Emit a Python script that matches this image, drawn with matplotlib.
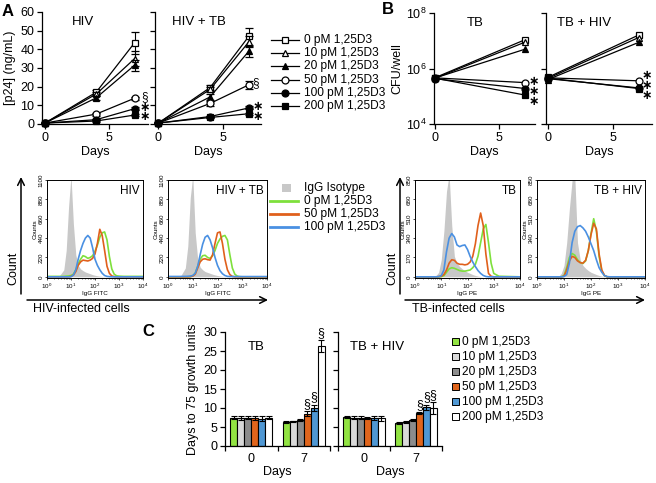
import matplotlib
matplotlib.use('Agg')
import matplotlib.pyplot as plt
import numpy as np
from matplotlib.patches import Rectangle

plt.rcParams['font.family'] = ['Liberation Sans', 'DejaVu Sans']
plt.rcParams['mathtext.fontset'] = 'custom'
plt.rcParams['mathtext.rm'] = 'Liberation Sans'

# ---------------- data ----------------
dose_labels = ['0 pM 1,25D3', '10 pM 1,25D3', '20 pM 1,25D3',
               '50 pM 1,25D3', '100 pM 1,25D3', '200 pM 1,25D3']
line_markers = ['s', '^', '^', 'o', 'o', 's']
marker_fills = ['white', 'white', 'black', 'white', 'black', 'black']

# Panel A: p24 (ng/mL)
days_a = [0, 4, 7]
hiv_p24 = [[0.5, 17, 43.5], [0.5, 16, 35], [0.5, 14, 31.5],
           [0.5, 5.3, 13.8], [0.5, 2.3, 8.2], [0.5, 1.6, 4.8]]
hiv_p24_err = [[0, 1.2, 6], [0, 1, 4], [0, 1, 3], [0, 0.8, 0.8], [0, 0.3, 0.8], [0, 0.3, 0.5]]
hivtb_p24 = [[0.5, 19.5, 47], [0.5, 18.5, 44], [0.5, 14.5, 39],
             [0.5, 11, 21], [0.5, 4, 8.6], [0.5, 3.5, 5.5]]
hivtb_p24_err = [[0, 1.5, 4.5], [0, 1.5, 3], [0, 1.5, 3], [0, 1.5, 2], [0, 0.5, 0.8], [0, 0.5, 0.6]]
# significance marks (day, value)
hiv_sig = [('§', 7.8, 14.6), ('∗', 7.8, 9.4), ('∗', 7.8, 4.6)]
hivtb_sig = [('§', 7.5, 21.9), ('∗', 7.7, 10.0), ('∗', 7.7, 4.8)]

# Panel B: CFU/well
days_b = [0, 7]
tb_cfu = [[4.6e5, 1.1e7], [4.4e5, 9e6], [4.5e5, 5e6],
          [4.6e5, 3.1e5], [4.3e5, 1.9e5], [4.5e5, 1.1e5]]
tbhiv_cfu = [[4.8e5, 1.6e7], [4.4e5, 1.3e7], [4.0e5, 8.7e6],
             [4.6e5, 3.6e5], [4.3e5, 2.0e5], [4.5e5, 1.9e5]]
tb_sig = [('∗', 7.65, 3.9e5), ('∗', 7.65, 1.7e5), ('∗', 7.65, 7.3e4)]
tbhiv_sig = [('∗', 7.65, 6.2e5), ('∗', 7.65, 2.8e5), ('∗', 7.65, 1.22e5)]

# Flow histograms (x in decades, y counts)
hist_decades = [0.0, 0.5, 0.7, 0.8, 0.9, 1.0, 1.1, 1.2, 1.3, 1.4, 1.5, 1.6, 1.7, 1.8,
                1.9, 2.0, 2.1, 2.2, 2.3, 2.4, 2.5, 2.6, 2.7, 2.8, 2.9, 3.0, 3.2, 4.0]
hiv_gray = [0, 5, 80, 300, 800, 1150, 600, 250, 130, 90, 70, 55, 45, 35, 25, 18, 12, 8, 5, 3, 2, 0, 0, 0, 0, 0, 0, 0]
hiv_blue = [0, 0, 0, 0, 0, 2, 20, 80, 200, 300, 380, 440, 470, 440, 330, 200, 130, 80, 40, 15, 5, 2, 0, 0, 0, 0, 0, 0]
hiv_green = [5, 5, 5, 8, 10, 15, 30, 80, 150, 200, 240, 230, 210, 220, 240, 290, 360, 450, 500, 510, 420, 230, 90, 30, 12, 8, 5, 5]
hiv_orange = [0, 0, 0, 0, 0, 5, 20, 60, 130, 170, 190, 185, 180, 190, 210, 260, 380, 540, 470, 300, 120, 40, 10, 3, 0, 0, 0, 0]
hivtb_gray = [0, 5, 100, 350, 900, 1150, 500, 200, 110, 80, 60, 50, 40, 30, 22, 15, 10, 6, 4, 2, 0, 0, 0, 0, 0, 0, 0, 0]
hivtb_blue = [4, 4, 5, 6, 8, 15, 40, 120, 250, 370, 450, 470, 420, 330, 220, 130, 70, 35, 15, 5, 3, 3, 3, 3, 3, 3, 3, 3]
hivtb_green = [0, 0, 0, 0, 2, 10, 40, 120, 200, 240, 245, 220, 210, 240, 300, 380, 430, 460, 470, 420, 250, 100, 30, 8, 2, 0, 0, 0]
hivtb_orange = [0, 0, 0, 0, 2, 8, 30, 100, 170, 200, 205, 195, 190, 250, 380, 500, 510, 380, 200, 80, 25, 5, 0, 0, 0, 0, 0, 0]
tb_gray = [0, 0, 0, 10, 40, 150, 400, 750, 900, 450, 180, 120, 90, 70, 55, 40, 30, 20, 12, 6, 3, 0, 0, 0, 0, 0, 0, 0]
tb_blue = [0, 0, 0, 0, 2, 10, 60, 220, 340, 380, 350, 280, 265, 275, 280, 240, 180, 130, 90, 55, 30, 12, 3, 0, 0, 0, 0, 0]
tb_orange = [0, 0, 0, 0, 2, 5, 20, 60, 120, 150, 145, 120, 110, 110, 105, 110, 130, 180, 290, 450, 560, 450, 200, 30, 5, 0, 0, 0]
tb_green = [0, 0, 0, 0, 0, 2, 10, 40, 70, 80, 75, 65, 55, 50, 50, 55, 60, 80, 110, 180, 300, 420, 460, 300, 120, 30, 5, 0]
tbhiv_gray = [0, 0, 0, 5, 30, 100, 300, 600, 850, 880, 300, 150, 100, 75, 55, 40, 30, 20, 12, 6, 3, 0, 0, 0, 0, 0, 0, 0]
tbhiv_blue = [0, 0, 0, 0, 0, 3, 20, 120, 300, 400, 440, 450, 430, 400, 350, 290, 230, 150, 80, 40, 10, 2, 0, 0, 0, 0, 0, 0]
tbhiv_green = [0, 0, 0, 0, 0, 10, 80, 170, 205, 190, 150, 125, 117, 140, 230, 380, 510, 400, 180, 50, 10, 0, 0, 0, 0, 0, 0, 0]
tbhiv_orange = [0, 0, 0, 0, 0, 5, 60, 140, 180, 170, 140, 125, 120, 145, 230, 370, 470, 420, 200, 60, 12, 0, 0, 0, 0, 0, 0, 0]
hist_legend = ['IgG Isotype', '0 pM 1,25D3', '50 pM 1,25D3', '100 pM 1,25D3']

# Panel C: days to 75 growth units
c_groups = ['0', '7']
tb_days = [[7.5, 7.3, 7.4, 7.4, 7.2, 7.5], [6.3, 6.5, 6.8, 8.5, 10.1, 26.3]]
tb_days_err = [[0.3, 0.5, 0.4, 0.6, 0.7, 0.5], [0.2, 0.2, 0.3, 0.6, 0.8, 1.5]]
tbhiv_days = [[7.6, 7.5, 7.4, 7.4, 7.4, 7.3], [6.1, 6.3, 6.8, 8.6, 10.2, 10.0]]
tbhiv_days_err = [[0.2, 0.3, 0.4, 0.3, 0.6, 0.7], [0.2, 0.2, 0.3, 0.3, 0.7, 1.5]]

# ---------------- style ----------------
bar_colors = ['#92e342', '#d9d9d9', '#8c8c8c', '#e0651c', '#4f97d3', '#ffffff']
c_gray, c_green, c_orange, c_blue = '#c8c8c8', '#7ee03c', '#e0601c', '#4a90e2'

W, H = 656, 483
fig = plt.figure(figsize=(W / 100, H / 100), dpi=100)


def ax_px(l, t, r, b):
    return fig.add_axes([l / W, 1 - b / H, (r - l) / W, (b - t) / H])


def style_main(ax, labels=True):
    for s in ['top', 'right']:
        ax.spines[s].set_visible(False)
    for s in ['left', 'bottom']:
        ax.spines[s].set_linewidth(0.9)
    ax.tick_params(direction='out', length=3.5, width=0.9, labelsize=9, pad=2)
    if not labels:
        ax.tick_params(axis='y', labelleft=False)


def put_sig(ax, marks):
    for sym, xv, yv in marks:
        if sym == '∗':
            ax.text(xv, yv, sym, fontsize=9, fontweight='bold', family='DejaVu Sans',
                    ha='center', va='center_baseline', clip_on=False)
        else:
            ax.text(xv, yv, sym, fontsize=8.5, ha='center', va='center', clip_on=False)


# ---------- Panel A ----------
def draw_a(ax, vals, errs, title, tx, xlim):
    for i in range(len(vals)):
        ax.errorbar(days_a, vals[i], yerr=errs[i], color='black', marker=line_markers[i],
                    mfc=marker_fills[i], mec='black', ms=5, mew=0.9, lw=0.9,
                    capsize=3, elinewidth=0.8, capthick=0.8, clip_on=False, zorder=3 + i * 0.1)
    ax.set_xlim(*xlim)
    ax.set_ylim(0, 60)
    ax.set_xticks([0, 5])
    ax.set_yticks(range(0, 61, 10))
    ax.set_xlabel('Days', fontsize=9, labelpad=2)
    ax.text(tx, 0.91, title, transform=ax.transAxes, ha='center', va='center', fontsize=9.5)


axA1 = ax_px(42, 12, 148, 124)
draw_a(axA1, hiv_p24, hiv_p24_err, 'HIV', 0.39, (-0.23, 8.05))
style_main(axA1)
axA1.set_ylabel('[p24] (ng/mL)', fontsize=9, labelpad=3)
put_sig(axA1, hiv_sig)

axA2 = ax_px(155, 12, 261, 124)
draw_a(axA2, hivtb_p24, hivtb_p24_err, 'HIV + TB', 0.41, (-0.26, 7.94))
style_main(axA2, labels=False)
put_sig(axA2, hivtb_sig)


# ---------- Panel B ----------
def draw_b(ax, vals, title, tx, xlim):
    for i in range(len(vals)):
        ax.plot(days_b, vals[i], color='black', marker=line_markers[i], mfc=marker_fills[i],
                mec='black', ms=5, mew=0.9, lw=0.9, clip_on=False, zorder=3 + i * 0.1)
    ax.set_yscale('log')
    ax.set_xlim(*xlim)
    ax.set_ylim(1e4, 1e8)
    ax.set_xticks([0, 5])
    ax.set_xlabel('Days', fontsize=9, labelpad=2)
    ax.text(tx, 0.91, title, transform=ax.transAxes, ha='center', va='center', fontsize=9.5)


axB1 = ax_px(434, 13, 535, 124)
draw_b(axB1, tb_cfu, 'TB', 0.41, (-0.05, 7.75))
style_main(axB1)
axB1.tick_params(axis='y', which='minor', length=2, width=0.6)
axB1.set_ylabel('CFU/well', fontsize=9, labelpad=2)
put_sig(axB1, tb_sig)

axB2 = ax_px(546, 13, 652, 124)
draw_b(axB2, tbhiv_cfu, 'TB + HIV', 0.36, (-0.15, 8.04))
style_main(axB2, labels=False)
axB2.tick_params(axis='y', which='minor', length=2, width=0.6)
put_sig(axB2, tbhiv_sig)


# ---------- Flow histograms ----------
def draw_hist(ax, gray, green, orange, blue, title, ymax, xlabel):
    x = 10 ** np.array(hist_decades)
    ax.fill_between(x, 0, gray, color=c_gray, lw=0)
    ax.plot(x, green, color=c_green, lw=1.2)
    ax.plot(x, orange, color=c_orange, lw=1.2)
    ax.plot(x, blue, color=c_blue, lw=1.2)
    ax.set_xscale('log')
    ax.set_xlim(1, 1e4)
    ax.set_ylim(-ymax * 0.012, ymax)
    ax.set_yticks(np.linspace(0, ymax, 6))
    ax.set_yticklabels([str(int(round(v))) for v in np.linspace(0, ymax, 6)], rotation=90, va='center')
    ax.set_xticks([1, 10, 100, 1000, 10000])
    ax.tick_params(labelsize=4.5, length=1.5, width=0.5, pad=1)
    ax.tick_params(which='minor', length=1, width=0.4)
    for s in ax.spines.values():
        s.set_linewidth(0.7)
    ax.set_ylabel('Counts', fontsize=4.5, labelpad=1)
    ax.set_xlabel(xlabel, fontsize=4.5, labelpad=0)
    ax.text(0.97, 0.95, title, transform=ax.transAxes, ha='right', va='top', fontsize=8.5)


axH1 = ax_px(47, 180, 143, 278)
draw_hist(axH1, hiv_gray, hiv_green, hiv_orange, hiv_blue, 'HIV', 1100, 'IgG FITC')
axH2 = ax_px(168, 180, 267, 278)
draw_hist(axH2, hivtb_gray, hivtb_green, hivtb_orange, hivtb_blue, 'HIV + TB', 1100, 'IgG FITC')
axH3 = ax_px(415, 180, 520, 278)
draw_hist(axH3, tb_gray, tb_green, tb_orange, tb_blue, 'TB', 850, 'IgG PE')
axH4 = ax_px(537, 180, 645, 278)
draw_hist(axH4, tbhiv_gray, tbhiv_green, tbhiv_orange, tbhiv_blue, 'TB + HIV', 850, 'IgG PE')


# ---------- Panel C ----------
def draw_c(ax, vals, errs, title, tx, labels=True):
    n = len(bar_colors)
    w = 0.8 / n
    for g in range(len(c_groups)):
        for i in range(n):
            xp = g - 0.4 + w * (i + 0.5)
            ax.bar(xp, vals[g][i], width=w, color=bar_colors[i], edgecolor='black', lw=0.8)
            ax.errorbar(xp, vals[g][i], yerr=errs[g][i], color='black', capsize=2.5,
                        elinewidth=0.8, capthick=0.8)
            if g == 1 and i >= 3:
                ax.text(xp, vals[g][i] + errs[g][i] + 0.3, '§', fontsize=9, ha='center', va='bottom')
    ax.set_xlim(-0.5, 1.5)
    ax.set_ylim(0, 30)
    ax.set_yticks(range(0, 31, 5))
    ax.set_xticks([-0.5, 0.5, 1.5])
    ax.set_xticklabels([])
    ax.set_xticks([0, 1], minor=True)
    ax.set_xticklabels(c_groups, minor=True)
    style_main(ax, labels)
    ax.tick_params(axis='x', which='minor', length=0, labelsize=9, pad=5)
    ax.set_xlabel('Days', fontsize=9, labelpad=1)
    ax.text(tx, 0.87, title, transform=ax.transAxes, ha='center', va='center', fontsize=9.5)


axC1 = ax_px(225, 332, 330, 446)
draw_c(axC1, tb_days, tb_days_err, 'TB', 0.3)
axC1.set_ylabel('Days to 75 growth units', fontsize=9, labelpad=3)
axC2 = ax_px(338, 332, 442, 446)
draw_c(axC2, tbhiv_days, tbhiv_days_err, 'TB + HIV', 0.38, labels=False)

# ---------- overlay: labels, legends, arrows ----------
ov = fig.add_axes([0, 0, 1, 1], zorder=10)
ov.set_xlim(0, W)
ov.set_ylim(H, 0)
ov.axis('off')
ov.patch.set_alpha(0)

ov.text(2, 11, 'A', fontsize=12, fontweight='bold', ha='left', va='center')
ov.text(382, 10, 'B', fontsize=12, fontweight='bold', ha='left', va='center')
ov.text(142, 331, 'C', fontsize=12, fontweight='bold', ha='left', va='center')

# Panel A legend
for i, lab in enumerate(dose_labels):
    y = 40 + i * 13.2
    ov.plot([271, 299], [y, y], color='black', lw=0.9)
    ov.plot([285], [y], marker=line_markers[i], mfc=marker_fills[i], mec='black', ms=5, mew=0.9)
    ov.text(304, y, lab, fontsize=8.6, va='center', ha='left')

# Histogram legend
hist_cols = [c_gray, c_green, c_orange, c_blue]
for i, lab in enumerate(hist_legend):
    y = 188 + i * 13
    if i == 0:
        ov.add_patch(Rectangle((282, y - 4), 9, 8, color=c_gray, lw=0))
    else:
        ov.plot([270, 298], [y, y], color=hist_cols[i], lw=2)
    ov.text(304, y, lab, fontsize=8.6, va='center', ha='left')

# Panel C legend
for i, lab in enumerate(dose_labels):
    y = 341.7 + i * 15
    ov.add_patch(Rectangle((452, y - 3.5), 7, 7, facecolor=bar_colors[i], edgecolor='black', lw=0.7))
    ov.text(462, y, lab, fontsize=8.6, va='center', ha='left')

# Arrows + axis captions for histogram groups
for (vx, hx0, hx1, cap, capx) in [(21, 27, 268, 'HIV-infected cells', 33), (400, 405, 645, 'TB-infected cells', 412)]:
    ov.annotate('', xy=(vx, 177), xytext=(vx, 294),
                arrowprops=dict(arrowstyle='->', lw=1.1, color='black', mutation_scale=12, shrinkA=0, shrinkB=0))
    ov.annotate('', xy=(hx1, 300), xytext=(hx0, 300),
                arrowprops=dict(arrowstyle='->', lw=1.1, color='black', mutation_scale=12, shrinkA=0, shrinkB=0))
    ov.text(capx, 309, cap, fontsize=9, ha='left', va='center')
    ov.text(vx - 8, 268, 'Count', fontsize=9, rotation=90, ha='center', va='center')

fig.savefig('out.png', dpi=100)
